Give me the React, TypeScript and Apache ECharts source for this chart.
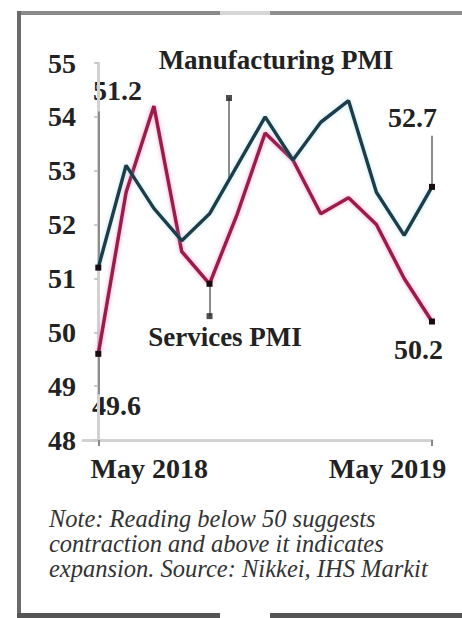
import React, { useEffect, useRef } from "react";
import * as echarts from "echarts";

const months = [
  "May 2018", "Jun 2018", "Jul 2018", "Aug 2018", "Sep 2018", "Oct 2018", "Nov 2018",
  "Dec 2018", "Jan 2019", "Feb 2019", "Mar 2019", "Apr 2019", "May 2019",
];
const manufacturing = [51.2, 53.1, 52.3, 51.7, 52.2, 53.1, 54.0, 53.2, 53.9, 54.3, 52.6, 51.8, 52.7];
const services = [49.6, 52.6, 54.2, 51.5, 50.9, 52.2, 53.7, 53.2, 52.2, 52.5, 52.0, 51.0, 50.2];
const xTickIndex = [0, 12];
const manufacturingMarkers = [0, 12];
const servicesMarkers = [0, 4, 12];

// leader lines (data coordinates) from points to annotation labels
const leaderFrom = [[0, 51.2], [0, 49.6], [4.7, 52.82], [4, 50.9], [12, 52.7]];
const leaderTo = [[0, 54.1], [0, 48.85], [4.7, 54.35], [4, 50.3], [12, 53.65]];
const leaderDots = [[4.7, 54.35], [4, 50.3]];

const SERIF = "'Liberation Serif', 'DejaVu Serif', serif";

function buildData(values: number[], markers: number[]) {
  return values.map((v, i) =>
    markers.includes(i)
      ? { value: [i, v], symbol: "rect", symbolSize: 6, itemStyle: { color: "#1a0d12" } }
      : { value: [i, v], symbol: "none" }
  );
}

export default function App() {
  const ref = useRef<HTMLDivElement>(null);
  useEffect(() => {
    if (!ref.current) return;
    const chart = echarts.init(ref.current, null, { renderer: "svg" });
    const labelFont = { fontFamily: SERIF, fontSize: 28, fontWeight: "bold" as const, color: "#222" };
    chart.setOption({
      animation: false,
      backgroundColor: "#ffffff",
      grid: { left: 83, right: 30, top: 63, bottom: 178 },
      xAxis: {
        type: "value",
        min: -0.55,
        max: 12,
        axisLine: { show: true, lineStyle: { color: "#d2d2d2", width: 3 } },
        axisTick: { show: true, customValues: xTickIndex, length: 6, lineStyle: { color: "#8a8a8a", width: 2 } },
        axisLabel: {
          customValues: xTickIndex,
          margin: 14,
          formatter: (v: number) => (v === xTickIndex[0] ? `{l|${months[v]}}` : `{r|${months[v]}}`),
          rich: {
            l: { ...labelFont, padding: [0, 0, 0, 102] },
            r: { ...labelFont, padding: [0, 89, 0, 0] },
          },
        },
        splitLine: { show: false },
      },
      yAxis: {
        type: "value",
        min: 48,
        max: 55,
        interval: 1,
        axisLine: { show: true, lineStyle: { color: "#d2d2d2", width: 3 } },
        axisTick: { show: true, length: 4, lineStyle: { color: "#c8c8c8", width: 2 } },
        axisLabel: { ...labelFont, margin: 7 },
        splitLine: { show: false },
      },
      series: [
        {
          name: "Services PMI",
          type: "line",
          clip: false,
          data: buildData(services, servicesMarkers),
          lineStyle: { color: "#9b1a4c", width: 3.5, shadowColor: "rgba(240,90,150,0.55)", shadowBlur: 4 },
          z: 3,
          markLine: {
            silent: true,
            symbol: ["none", "none"],
            label: { show: false },
            lineStyle: { color: "#8c8c8c", width: 2, type: "solid" },
            data: leaderFrom.map((f, i) => [{ coord: f }, { coord: leaderTo[i] }]),
            z: 2,
          },
        },
        {
          name: "Manufacturing PMI",
          type: "line",
          clip: false,
          data: buildData(manufacturing, manufacturingMarkers),
          lineStyle: { color: "#1d3c4a", width: 3.5, shadowColor: "rgba(120,200,210,0.45)", shadowBlur: 4 },
          z: 4,
        },
        {
          name: "dots",
          type: "scatter",
          symbol: "rect",
          symbolSize: 6,
          itemStyle: { color: "#222" },
          data: leaderDots,
          z: 5,
        },
      ],
      graphic: [
        { type: "rect", shape: { x: 17, y: 11, width: 203, height: 4 }, style: { fill: "#8a8a8a" } },
        { type: "rect", shape: { x: 220, y: 11, width: 50, height: 4 }, style: { fill: "#d6d6d6" } },
        { type: "rect", shape: { x: 270, y: 11, width: 192, height: 4 }, style: { fill: "#8f8f8f" } },
        { type: "rect", shape: { x: 17, y: 11, width: 4, height: 607 }, style: { fill: "#6a6a6a" } },
        { type: "rect", shape: { x: 17, y: 613, width: 203, height: 5 }, style: { fill: "#555" } },
        { type: "rect", shape: { x: 270, y: 613, width: 192, height: 5 }, style: { fill: "#555" } },
        {
          type: "text", x: 276, y: 60,
          style: { text: "Manufacturing PMI", font: `bold 27px ${SERIF}`, fill: "#222", textAlign: "center", textVerticalAlign: "middle" },
        },
        {
          type: "text", x: 225, y: 337,
          style: { text: "Services PMI", font: `bold 27px ${SERIF}`, fill: "#222", textAlign: "center", textVerticalAlign: "middle" },
        },
        {
          type: "text", x: 93, y: 90,
          style: { text: String(manufacturing[0]), font: `bold 28px ${SERIF}`, fill: "#222", textAlign: "left", textVerticalAlign: "middle" },
        },
        {
          type: "text", x: 92, y: 405,
          style: { text: String(services[0]), font: `bold 28px ${SERIF}`, fill: "#222", textAlign: "left", textVerticalAlign: "middle" },
        },
        {
          type: "text", x: 437, y: 117,
          style: { text: String(manufacturing[12]), font: `bold 28px ${SERIF}`, fill: "#222", textAlign: "right", textVerticalAlign: "middle" },
        },
        {
          type: "text", x: 443, y: 349,
          style: { text: String(services[12]), font: `bold 28px ${SERIF}`, fill: "#222", textAlign: "right", textVerticalAlign: "middle" },
        },
        {
          type: "text", x: 49, y: 506,
          style: {
            text: "Note: Reading below 50 suggests\ncontraction and above it indicates\nexpansion. Source: Nikkei, IHS Markit",
            font: `italic 24.5px ${SERIF}`, lineHeight: 25, fill: "#333", textAlign: "left", textVerticalAlign: "top",
          },
        },
      ],
    });
    return () => chart.dispose();
  }, []);
  return (
    <div
      ref={ref}
      style={{ position: "absolute", left: 0, top: 0, width: 462, height: 618 }}
    />
  );
}
